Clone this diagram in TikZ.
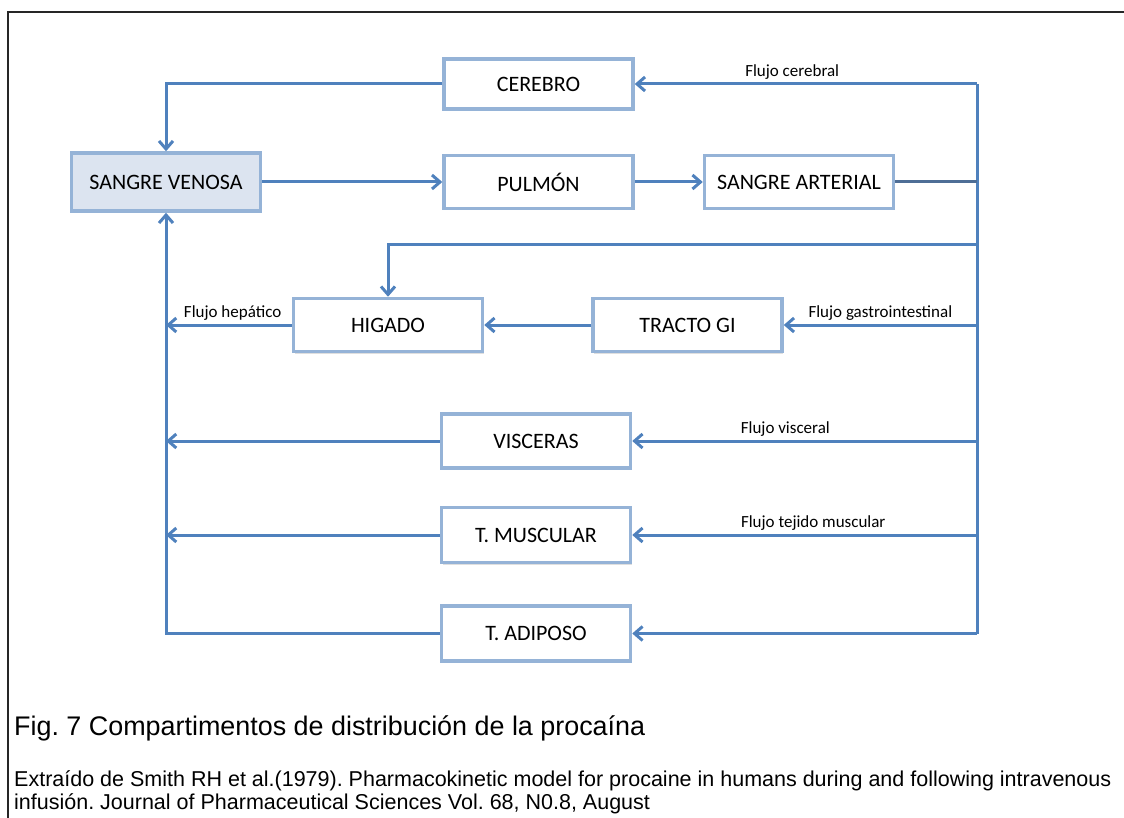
\documentclass[tikz,border=0pt]{standalone}
\usepackage{fontspec}
\usepackage{tikz}
\usetikzlibrary{arrows.meta,positioning,shadows}
\newfontfamily\boxfont{Carlito}
\newfontfamily\capfont{Liberation Sans}
\definecolor{flowblue}{HTML}{4F81BD}
\definecolor{boxblue}{HTML}{95B3D7}
\definecolor{venfill}{HTML}{DCE4F0}
\definecolor{artline}{HTML}{4E6E96}
\frenchspacing

\begin{document}
\begin{tikzpicture}[
      x=1pt, y=-1pt,
      block/.style={draw=boxblue, line width=3.5pt, fill=white, align=center,
        minimum width=189pt, minimum height=53pt, inner sep=0pt,
        font=\boxfont\fontsize{22}{26}\selectfont,
        drop shadow={shadow xshift=1pt, shadow yshift=-2pt, opacity=.25, fill=gray}},
      flow/.style={draw=flowblue, line width=3pt},
      lbl/.style={font=\boxfont\fontsize{17}{20}\selectfont, inner sep=2pt},
      >={Straight Barb[length=8pt, width=14pt]}
    ]
    \useasboundingbox (0,0) rectangle (1124,818);
    % Frame
    \draw[black!85, line width=1.5pt] (8,818) -- (8,12) -- (1124,12);

    % Nodes
    \node[block, fill=venfill, minimum height=58pt] (venosa) at (166,182) {SANGRE VENOSA};
    \node[block, right=180pt of venosa] (pulmon) {PULMÓN};
    \node[block, right=68pt of pulmon] (arterial) {SANGRE ARTERIAL};
    \node[block, above=43pt of pulmon, minimum height=50pt] (cerebro) {CEREBRO};
    \node[block] (higado) at (388,325) {HIGADO};
    \node[block, right=107pt of higado] (tracto) {TRACTO GI};
    \node[block, minimum height=54pt] (visceras) at (536,441) {VISCERAS};
    \node[block, minimum height=55pt, below=36pt of visceras] (muscular) {T. MUSCULAR};
    \node[block, minimum height=55pt, below=40pt of muscular] (adiposo) {T. ADIPOSO};

    % Arterial bus on the right
    \coordinate (busx) at (977,0);
    \coordinate (hepbranch) at (977,245);
    \draw[flow] (cerebro -| busx) -- (adiposo -| busx);
    \draw[draw=artline, line width=3pt] (arterial) -- (arterial -| busx);

    % Main circuit
    \draw[flow,->] (venosa) -- (pulmon);
    \draw[flow,->] (pulmon) -- (arterial);
    \draw[flow,->] (cerebro -| busx) -- node[lbl, pos=0.54, above=1pt]{Flujo cerebral} (cerebro);
    \draw[flow,->] (cerebro.west) -| (venosa.north);

    % Liver and GI tract
    \draw[flow,->] (hepbranch) -| (higado.north);
    \draw[flow,->] (tracto -| busx) -- node[lbl, pos=0.5, above=1pt]{Flujo gastrointestinal} (tracto);
    \draw[flow,->] (tracto) -- (higado);
    \draw[flow,->] (higado) -- node[lbl, pos=0.47, above=1pt]{Flujo hepático} (higado -| venosa);

    % Tissues
    \draw[flow,->] (visceras -| busx) -- node[lbl, pos=0.556, above=1pt]{Flujo visceral} (visceras);
    \draw[flow,->] (visceras) -- (visceras -| venosa);
    \draw[flow,->] (muscular -| busx) -- node[lbl, pos=0.475, above=1pt]{Flujo tejido muscular} (muscular);
    \draw[flow,->] (muscular) -- (muscular -| venosa);
    \draw[flow,->] (adiposo -| busx) -- (adiposo);
    \draw[flow,->] (adiposo.west) -| (venosa.south);

    % Caption
    \node[anchor=base west, inner sep=0pt, font=\capfont\fontsize{26.9}{30}\selectfont] (caption) at (14,735)
      {Fig. 7 Compartimentos de distribución de la procaína};
    \node[anchor=base west, inner sep=0pt, font=\capfont\fontsize{21.5}{23}\selectfont] (source) at (14,786)
      {Extraído de Smith RH et al.(1979). Pharmacokinetic model for procaine in humans during and following intravenous};
    \node[anchor=base west, inner sep=0pt, font=\capfont\fontsize{21.5}{23}\selectfont] (sourcetwo) at (14,809)
      {infusión. Journal of Pharmaceutical Sciences Vol. 68, N0.8, August};
  \end{tikzpicture}
\end{document}
